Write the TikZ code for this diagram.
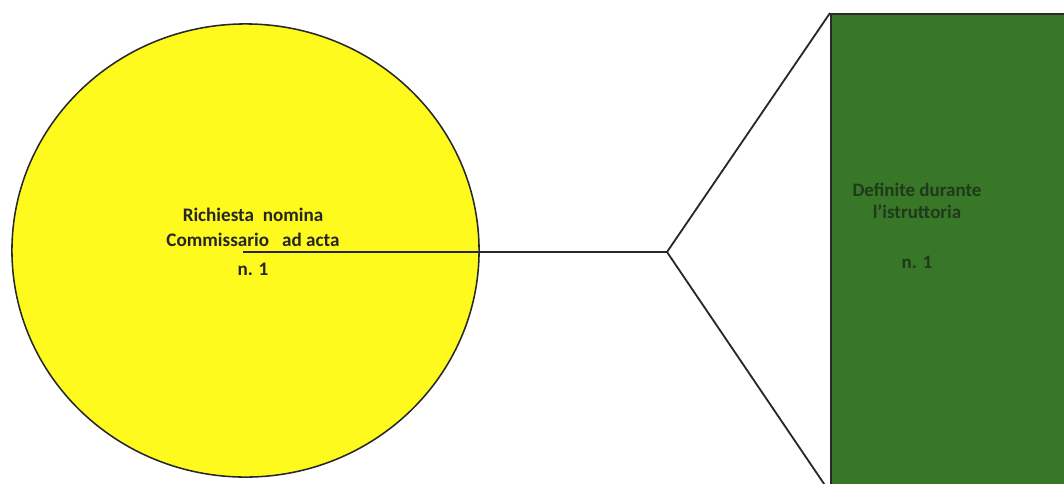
\documentclass[tikz,border=0pt]{standalone}
\usepackage{fontspec}
\setmainfont{Carlito}
\usetikzlibrary{shapes.geometric, positioning}
\definecolor{discyellow}{RGB}{255,250,30}
\definecolor{boxgreen}{RGB}{56,118,40}
\definecolor{boxtext}{RGB}{30,58,26}
\definecolor{edgegray}{RGB}{40,40,40}
\tikzset{
  disc/.style={ellipse, draw=edgegray, line width=1.1pt, fill=discyellow,
    inner sep=0pt, minimum width=11.675cm, minimum height=11.325cm},
  greenbox/.style={rectangle, draw=edgegray, line width=1.1pt, fill=boxgreen,
    inner sep=0pt, minimum width=6.2cm, minimum height=11.95cm},
  disclabel/.style={align=center, font=\fontsize{13.6}{18.2}\selectfont\bfseries,
    text=black!85},
  boxlabel/.style={align=center, font=\fontsize{13.5}{15.6}\selectfont\bfseries,
    text=boxtext},
  link/.style={line width=1.3pt, color=edgegray},
}

\begin{document}
\begin{tikzpicture}[x=0.025cm, y=-0.025cm]
  \useasboundingbox (0,0) rectangle (1064,483);
  \clip (0,0) rectangle (1064,483);
  \node[disc] (richiesta) at (245.5,250.5) {};
  \node[disclabel] (richiestatxt) at (253,241.5)
    {Richiesta\ \ nomina\\Commissario\ \ \ ad acta\\[2pt]n. 1};
  \node[greenbox, anchor=north west] (box) at (830,13) {};
  \node[boxlabel] (boxtxt) at (917,226)
    {Definite durante\\l'istruttoria\\[20pt]n. 1};
  \coordinate (start) at (243,252);
  \coordinate (fork) at (667,252);
  \draw[link] (start) -- (fork);
  \draw[link] (fork) -- (box.north west);
  \draw[link] (fork) -- (box.south west);
\end{tikzpicture}
\end{document}
